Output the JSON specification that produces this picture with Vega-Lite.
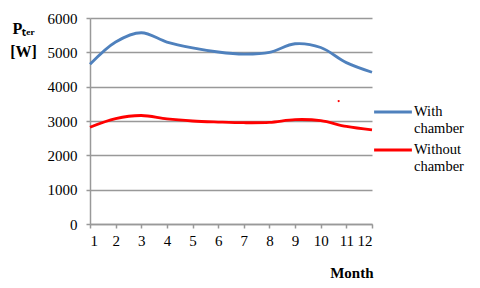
{
  "$schema": "https://vega.github.io/schema/vega-lite/v6.json",
  "width": 282,
  "height": 206,
  "autosize": {"type": "none"},
  "padding": {"left": 90, "top": 18, "right": 108, "bottom": 64},
  "background": "white",
  "config": {
    "font": "Liberation Serif",
    "view": {"stroke": null},
    "axis": {
      "labelFont": "Liberation Serif",
      "labelFontSize": 15,
      "labelColor": "#000",
      "labelOverlap": false,
      "domainColor": "#999",
      "domainWidth": 1.5,
      "tickColor": "#999",
      "tickWidth": 1.5,
      "tickSize": 4,
      "gridColor": "#999",
      "gridWidth": 1.5
    }
  },
  "datasets": {
    "lines": [
      {"month": 1, "power": 4650, "series": "With chamber"},
      {"month": 2, "power": 5300, "series": "With chamber"},
      {"month": 3, "power": 5570, "series": "With chamber"},
      {"month": 4, "power": 5300, "series": "With chamber"},
      {"month": 5, "power": 5130, "series": "With chamber"},
      {"month": 6, "power": 5010, "series": "With chamber"},
      {"month": 7, "power": 4950, "series": "With chamber"},
      {"month": 8, "power": 5000, "series": "With chamber"},
      {"month": 9, "power": 5250, "series": "With chamber"},
      {"month": 10, "power": 5140, "series": "With chamber"},
      {"month": 11, "power": 4700, "series": "With chamber"},
      {"month": 12, "power": 4420, "series": "With chamber"},
      {"month": 1, "power": 2820, "series": "Without chamber"},
      {"month": 2, "power": 3070, "series": "Without chamber"},
      {"month": 3, "power": 3160, "series": "Without chamber"},
      {"month": 4, "power": 3060, "series": "Without chamber"},
      {"month": 5, "power": 3000, "series": "Without chamber"},
      {"month": 6, "power": 2970, "series": "Without chamber"},
      {"month": 7, "power": 2950, "series": "Without chamber"},
      {"month": 8, "power": 2960, "series": "Without chamber"},
      {"month": 9, "power": 3040, "series": "Without chamber"},
      {"month": 10, "power": 3010, "series": "Without chamber"},
      {"month": 11, "power": 2840, "series": "Without chamber"},
      {"month": 12, "power": 2740, "series": "Without chamber"}
    ],
    "dot": [{"month": 10.7, "power": 3580}]
  },
  "encoding": {
    "x": {
      "field": "month", "type": "quantitative",
      "scale": {"domain": [1, 12], "nice": false},
      "axis": {
        "values": [1,2,3,4,5,6,7,8,9,10,11,12],
        "format": "d",
        "grid": false,
        "labelPadding": 5,
        "title": "Month",
        "titleFont": "Liberation Serif",
        "titleFontSize": 15,
        "titleFontWeight": "bold",
        "titleAnchor": "end",
        "titleAlign": "right",
        "titleX": 283,
        "titleY": 53,
        "titleBaseline": "alphabetic"
      }
    },
    "y": {
      "field": "power", "type": "quantitative",
      "scale": {"domain": [0, 6000], "nice": false},
      "axis": {
        "values": [0,1000,2000,3000,4000,5000,6000],
        "format": "d",
        "grid": true,
        "domain": true,
        "labelPadding": 9,
        "title": ["Pₜₑᵣ", "[W]"],
        "titleFont": "Liberation Serif",
        "titleFontSize": 16,
        "titleFontWeight": "bold",
        "titleAngle": 0,
        "titleAlign": "center",
        "titleBaseline": "alphabetic",
        "titleLineHeight": 23,
        "titleX": -67,
        "titleY": 15
      }
    }
  },
  "layer": [
    {
      "data": {"name": "lines"},
      "mark": {"type": "line", "interpolate": "catmull-rom", "strokeWidth": 2.8},
      "encoding": {
        "color": {
          "field": "series", "type": "nominal",
          "scale": {"domain": ["With chamber", "Without chamber"], "range": ["#4F81BD", "#FF0000"]},
          "legend": {
            "title": null,
            "orient": "none",
            "legendX": 288,
            "legendY": 79,
            "symbolType": "M-1.4,0H1.4",
            "symbolSize": 729,
            "symbolStrokeWidth": 3,
            "labelFont": "Liberation Serif",
            "labelFontSize": 14.5,
            "labelColor": "#000",
            "labelExpr": "split(datum.label, ' ')",
            "labelLimit": 200,
            "labelOffset": 6,
            "labelBaseline": "middle",
            "rowPadding": 0
          }
        }
      }
    },
    {
      "data": {"name": "dot"},
      "mark": {"type": "point", "filled": true, "color": "#FF0000", "size": 5, "opacity": 1}
    }
  ]
}
